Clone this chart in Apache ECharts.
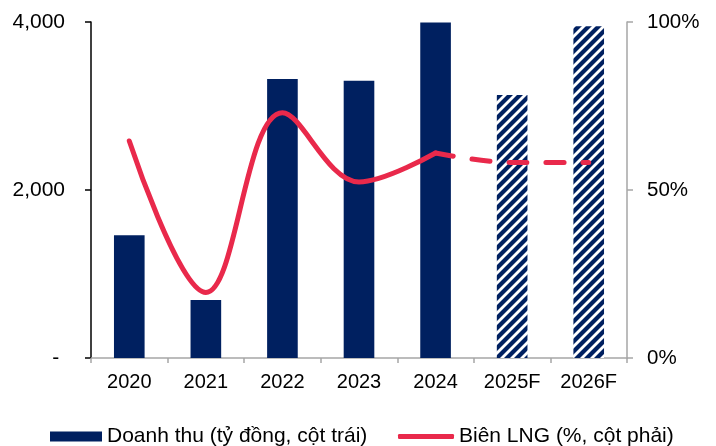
<!DOCTYPE html>
<html>
<head>
<meta charset="utf-8">
<script src="https://cdn.jsdelivr.net/npm/echarts@6/dist/echarts.min.js"></script>
<style>
  html, body { margin: 0; padding: 0; background: #fff; }
  #chart { width: 716px; height: 446px; }
</style>
</head>
<body>
<div id="chart"></div>
<script>
// Years, with forecast years marked "F"
const categories = ['2020', '2021', '2022', '2023', '2024', '2025F', '2026F'];
// Revenue (billion VND), left axis
const revenue = [1460, 690, 3320, 3300, 3995, 3130, 3950];
// Which years are forecasts (drawn hatched)
const isForecast = [false, false, false, false, false, true, true];
// Net profit margin (%), right axis: actual years, then forecast years
const marginActual = [64.6, 19.5, 73, 52.4, 61, null, null];
const marginForecast = [null, null, null, null, 61, 58.2, 58.2];
// Axis tick values
const leftTicks = [0, 2000, 4000];
const rightTicks = [0, 50, 100];

const NAVY = '#002060';
const RED = '#E9294B';
const FONT = '"Liberation Sans", Arial, sans-serif';

// Diagonal hatch fill for forecast bars
function makeHatch() {
  const s = 10;
  const c = document.createElement('canvas');
  c.width = s; c.height = s;
  const g = c.getContext('2d');
  g.fillStyle = NAVY;
  g.fillRect(0, 0, s, s);
  g.strokeStyle = '#ffffff';
  g.lineWidth = 2.8;
  [[0, s, s, 0], [-s / 2, s / 2, s / 2, -s / 2], [s / 2, s * 1.5, s * 1.5, s / 2]].forEach(l => {
    g.beginPath(); g.moveTo(l[0], l[1]); g.lineTo(l[2], l[3]); g.stroke();
  });
  return c;
}
const hatch = { image: makeHatch(), repeat: 'repeat' };

const barData = revenue.map((v, i) => isForecast[i]
  ? { value: v, itemStyle: { color: hatch } }
  : v);

const chart = echarts.init(document.getElementById('chart'), null, { renderer: 'canvas' });

const leftName = 'Doanh thu (tỷ đồng, cột trái)';
const rightName = 'Biên LNG (%, cột phải)';

chart.setOption({
  animation: false,
  textStyle: { fontFamily: FONT, color: '#000' },
  grid: { left: 91, right: 89, top: 22, bottom: 88 },
  legend: [
    {
      data: [{ name: leftName, icon: 'rect', itemStyle: { color: NAVY } }],
      left: 50, top: 426, padding: 0,
      itemWidth: 52, itemHeight: 10,
      textStyle: { fontFamily: FONT, fontSize: 21, color: '#000' },
      selectedMode: false
    },
    {
      data: [{ name: rightName, icon: 'roundRect', itemStyle: { color: RED } }],
      left: 398, top: 426, padding: 0,
      itemWidth: 56, itemHeight: 5,
      textStyle: { fontFamily: FONT, fontSize: 21, color: '#000' },
      selectedMode: false
    }
  ],
  xAxis: {
    type: 'category',
    data: categories,
    boundaryGap: true,
    axisLine: { lineStyle: { color: '#a6a6a6', width: 1.5 } },
    axisTick: { show: true, length: 5, lineStyle: { color: '#a6a6a6', width: 1.5 } },
    axisLabel: { interval: 0, fontFamily: FONT, fontSize: 20, color: '#000', margin: 14 },
    splitLine: { show: false }
  },
  yAxis: [
    {
      type: 'value',
      min: leftTicks[0], max: leftTicks[leftTicks.length - 1], interval: leftTicks[1] - leftTicks[0],
      position: 'left',
      axisLine: { show: true, lineStyle: { color: '#000', width: 1.5 } },
      axisTick: { show: true, length: 6, lineStyle: { color: '#000', width: 1.5 } },
      axisLabel: {
        fontFamily: FONT, fontSize: 21, color: '#000', margin: 26,
        formatter: v => v === 0 ? '- ' : v.toLocaleString('en-US')
      },
      splitLine: { show: false }
    },
    {
      type: 'value',
      min: rightTicks[0], max: rightTicks[rightTicks.length - 1], interval: rightTicks[1] - rightTicks[0],
      position: 'right',
      axisLine: { show: true, lineStyle: { color: '#a6a6a6', width: 1.5 } },
      axisTick: { show: true, length: 6, lineStyle: { color: '#a6a6a6', width: 1.5 } },
      axisLabel: { fontFamily: FONT, fontSize: 20.5, color: '#000', margin: 20, formatter: '{value}%' },
      splitLine: { show: false }
    }
  ],
  series: [
    {
      name: leftName,
      type: 'bar',
      yAxisIndex: 0,
      barWidth: '40%',
      data: barData,
      itemStyle: { color: NAVY }
    },
    {
      name: rightName,
      type: 'line',
      yAxisIndex: 1,
      data: marginActual,
      smooth: 0.37,
      showSymbol: false,
      symbol: 'none',
      lineStyle: { color: RED, width: 5, cap: 'round', join: 'round' },
      itemStyle: { color: RED },
      z: 5
    },
    {
      name: rightName,
      type: 'line',
      yAxisIndex: 1,
      data: marginForecast,
      smooth: 0.37,
      showSymbol: false,
      symbol: 'none',
      lineStyle: { color: RED, width: 5, type: [18, 19], cap: 'round' },
      itemStyle: { color: RED },
      z: 5
    }
  ]
});
</script>
</body>
</html>
